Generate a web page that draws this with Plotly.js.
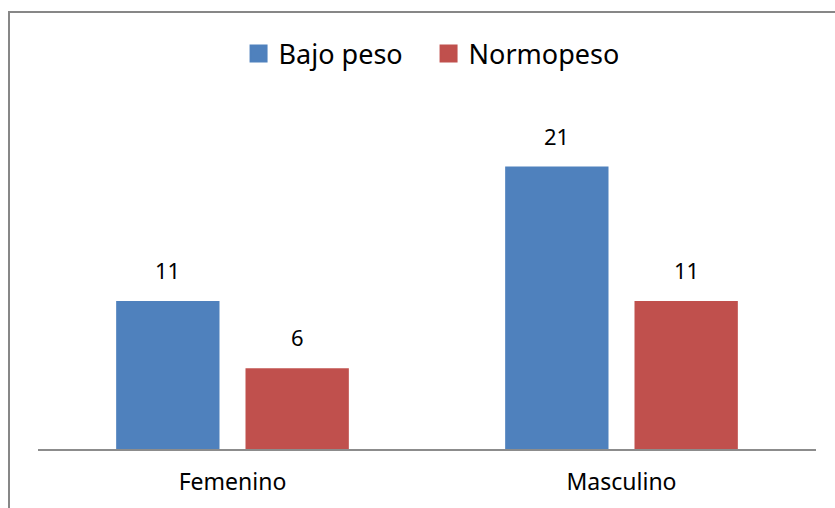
<!DOCTYPE html>
<html>
<head>
<meta charset="utf-8">
<script src="https://cdn.plot.ly/plotly-3.0.1.min.js"></script>
<style>
html,body{margin:0;padding:0;background:#fff;overflow:hidden;}
#wrap{position:relative;width:835px;height:508px;overflow:hidden;}
#chart{width:835px;height:508px;}
#frame{position:absolute;left:8px;top:11px;width:900px;height:600px;border-left:2px solid #878787;border-top:2px solid #878787;pointer-events:none;}
</style>
</head>
<body>
<div id="wrap">
<div id="chart"></div>
<div id="frame"></div>
</div>
<script>
const categories = ["Femenino", "Masculino"];
const seriesNames = ["Bajo peso", "Normopeso"];
const bajoPeso = [11, 21];
const normopeso = [6, 11];

const colors = ["#4F81BD", "#C0504D"];
const FONT = "'Noto Sans', 'Open Sans', sans-serif";
const bargap = 0.335;
const bargroupgap = 0.201;

const allSeries = [bajoPeso, normopeso];
const traces = allSeries.map((vals, s) => ({
  type: "bar",
  name: seriesNames[s],
  x: categories,
  y: vals,
  marker: {color: colors[s]},
  showlegend: false,
  hoverinfo: "none"
}));
// legend entries with larger square swatches
seriesNames.forEach((n, s) => {
  traces.push({
    type: "scatter", mode: "markers", name: n,
    x: [null], y: [null],
    marker: {symbol: "square", size: 18, color: colors[s], line: {color: colors[s], width: 2}},
    showlegend: true, hoverinfo: "none"
  });
});

// data labels above bars
const groupW = 1 - bargap;
const slot = groupW / allSeries.length;
const annotations = [];
allSeries.forEach((vals, s) => {
  vals.forEach((v, i) => {
    annotations.push({
      x: i - groupW / 2 + slot * (s + 0.5),
      y: v,
      xref: "x", yref: "y",
      text: String(v),
      showarrow: false,
      yanchor: "bottom",
      yshift: 14,
      font: {family: FONT, size: 22, color: "#000"}
    });
  });
});

const layout = {
  width: 835, height: 508,
  margin: {l: 38, r: 19, t: 88, b: 59},
  paper_bgcolor: "#fff", plot_bgcolor: "#fff",
  barmode: "group",
  bargap: bargap,
  bargroupgap: bargroupgap,
  showlegend: true,
  legend: {
    orientation: "h", x: 0.502, xanchor: "center", y: 1.094, yanchor: "middle",
    font: {family: FONT, size: 27, color: "#000"},
    itemwidth: 30, traceorder: "normal", itemsizing: "trace",
    entrywidth: 145
  },
  xaxis: {
    type: "category",
    range: [-0.5, 1.5],
    showline: true, linecolor: "#8C8C8C", linewidth: 1.5,
    showgrid: false, zeroline: false,
    ticks: "outside", ticklen: 12, tickcolor: "rgba(0,0,0,0)",
    tickfont: {family: FONT, size: 23, color: "#000"}
  },
  yaxis: {
    range: [0, 26.84],
    visible: false, showgrid: false, zeroline: false
  },
  annotations: annotations
};

Plotly.newPlot("chart", traces, layout, {staticPlot: true, displayModeBar: false});
</script>
</body>
</html>
